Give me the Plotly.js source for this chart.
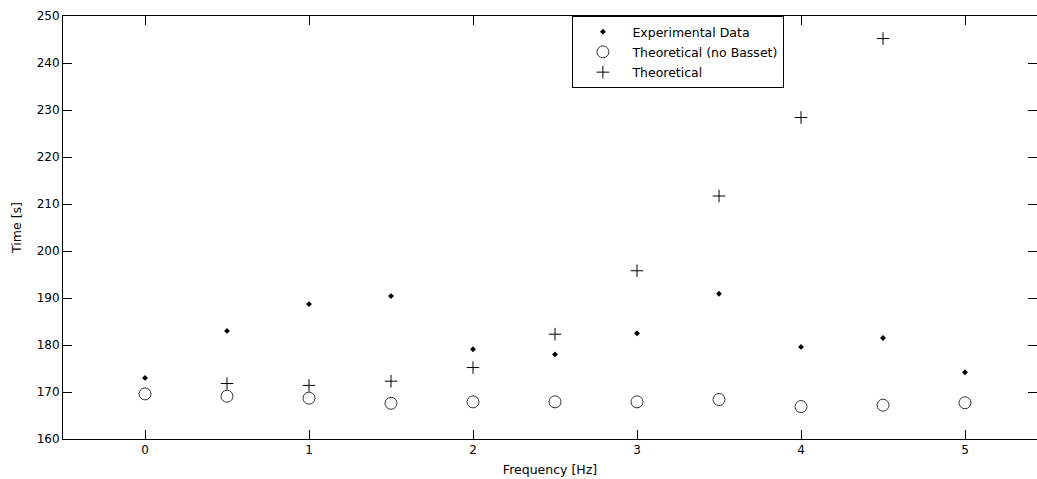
<!DOCTYPE html>
<html>
<head>
<meta charset="utf-8">
<script src="https://cdn.plot.ly/plotly-3.0.1.min.js"></script>
<style>
html, body { margin: 0; padding: 0; overflow: hidden; background: #fff; }
#chart { width: 1037px; height: 479px; }
</style>
</head>
<body>
<div id="chart"></div>
<script>
// Data
const freq = [0, 0.5, 1, 1.5, 2, 2.5, 3, 3.5, 4, 4.5, 5];
const experimental = [173.0, 183.0, 188.7, 190.4, 179.1, 178.0, 182.5, 190.9, 179.6, 181.5, 174.2];
const theoNoBasset = [169.6, 169.1, 168.7, 167.6, 167.9, 167.9, 167.9, 168.4, 166.9, 167.2, 167.7];
const freqTheo = [0.5, 1, 1.5, 2, 2.5, 3, 3.5, 4, 4.5];
const theoretical = [171.8, 171.4, 172.3, 175.2, 182.3, 195.8, 211.7, 228.4, 245.2];
const xTicks = [0, 1, 2, 3, 4, 5];
const yTicks = [160, 170, 180, 190, 200, 210, 220, 230, 240, 250];

const tickFont = { family: '"DejaVu Sans", sans-serif', size: 12, color: '#000' };
const textFont = { family: '"DejaVu Sans", sans-serif', size: 12.5, color: '#000' };

const traces = [
  {
    x: freq, y: experimental, type: 'scatter', mode: 'markers',
    name: 'Experimental Data', legendgroup: 'a',
    marker: { symbol: 'diamond', size: 4.5, color: '#000', line: { width: 0 } }
  },
  {
    x: freq, y: theoNoBasset, type: 'scatter', mode: 'markers',
    name: 'Theoretical (no Basset)', legendgroup: 'b',
    marker: { symbol: 'circle-open', size: 12, color: '#333', line: { width: 1, color: '#333' } }
  },
  {
    x: freqTheo, y: theoretical, type: 'scatter', mode: 'markers',
    name: 'Theoretical', legendgroup: 'c',
    marker: { symbol: 'cross-thin-open', size: 9, color: '#000', line: { width: 1, color: '#000' } }
  }
];

const layout = {
  width: 1037, height: 479,
  margin: { l: 63, r: 0, t: 16, b: 40 },
  paper_bgcolor: '#fff', plot_bgcolor: '#fff',
  font: textFont,
  showlegend: true,
  legend: {
    x: 0.523, y: 1, xanchor: 'left', yanchor: 'top',
    bordercolor: '#000', borderwidth: 1, bgcolor: '#fff',
    font: textFont, tracegroupgap: 1, itemwidth: 49
  },
  xaxis: {
    range: [-0.5, 5.439], tickvals: xTicks, ticktext: xTicks.map(String),
    ticks: 'inside', ticklen: 9, tickcolor: '#000', tickwidth: 1,
    showline: true, linecolor: '#000', linewidth: 1, mirror: 'ticks',
    showgrid: false, zeroline: false,
    tickfont: tickFont,
    title: { text: 'Frequency [Hz]', font: textFont, standoff: 8 }
  },
  yaxis: {
    range: [160, 250], tickvals: yTicks, ticktext: yTicks.map(String),
    ticks: 'inside', ticklen: 9, tickcolor: '#000', tickwidth: 1,
    showline: true, linecolor: '#000', linewidth: 1, mirror: 'ticks',
    showgrid: false, zeroline: false,
    tickfont: tickFont,
    title: { text: 'Time [s]', font: textFont, standoff: 12 }
  }
};

Plotly.newPlot('chart', traces, layout, { displayModeBar: false, staticPlot: true });
</script>
</body>
</html>
